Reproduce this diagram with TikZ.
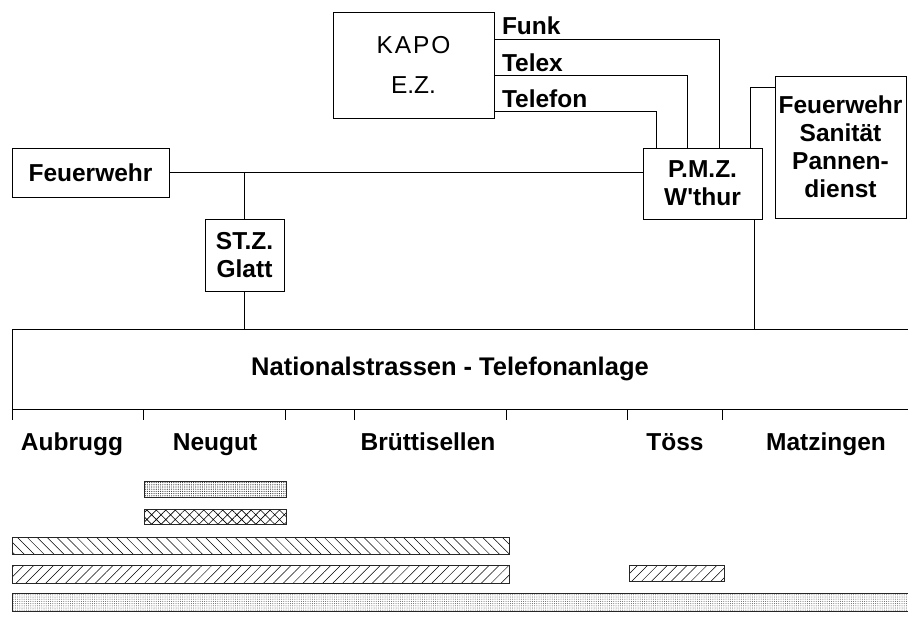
\documentclass[tikz,border=0pt]{standalone}
\usepackage{fontspec}
\setmainfont{Liberation Sans}[Ligatures=TeXOff]
\usetikzlibrary{calc,patterns.meta}
\tikzset{every node/.style={font=\fontsize{24.5}{28}\selectfont\bfseries},
  box/.style={draw=black,fill=white,line width=1pt,align=center,
    inner sep=0pt,outer sep=0pt},
  tag/.style={inner sep=0pt,outer sep=0pt},
  lnk/.style={draw=black,line width=0.9pt},
  bar/.style={draw=black!85,line width=0.8pt}}
\newcommand{\tick}[1]{\draw[lnk] (#1,409) -- (#1,420);}

\begin{document}
\begin{tikzpicture}[x=1pt,y=-1pt]
  \path[use as bounding box] (0,0) rectangle (908,619);

  % Alarm centres
  \node[box,minimum width=157,minimum height=49] (feuer) at (90.5,172.5) {Feuerwehr};
  \node[box,minimum width=79,minimum height=72] (stz) at (244.5,255) {ST.Z.\\Glatt};
  \node[box,minimum width=161,minimum height=106,font=\fontsize{24.5}{40}\selectfont\mdseries]
    (kapo) at (413.5,65) {\addfontfeatures{LetterSpace=8}KAPO\\E.Z.};
  \node[box,minimum width=119,minimum height=71] (pmz) at (702.5,183.5)
    {P.M.Z.\\W'thur};
  \node[box,minimum width=131,minimum height=142] (dienst) at (840.5,147)
    {Feuerwehr\\Sanität\\Pannen-\\dienst};
  \node[box,minimum width=900,minimum height=80,anchor=north west] (nsta) at (12,329) {};
  \node[tag,font=\fontsize{25.5}{28}\selectfont\bfseries] (nstatxt) at (450,369)
    {Nationalstrassen\hspace{7pt}-\hspace{7pt}Telefonanlage};

  % KAPO links
  \node[tag,anchor=base west] (funk) at (502,34) {Funk};
  \node[tag,anchor=base west] (telex) at (502,71) {Telex};
  \node[tag,anchor=base west] (telefon) at (502,107) {Telefon};
  \draw[lnk] (kapo.east |- 0,39) -| (pmz.north -| 719,0);
  \draw[lnk] (kapo.east |- 0,75) -| (pmz.north -| 687,0);
  \draw[lnk] (kapo.east |- 0,111) -| (pmz.north -| 656,0);

  % Lines between the centres
  \draw[lnk] (feuer.east) -- (feuer.east -| pmz.west);
  \draw[lnk] (stz.north) -- (stz.north |- feuer.east);
  \draw[lnk] (stz.south) -- (stz.south |- nsta.north);
  \draw[lnk] (pmz.north -| 750,0) |- (dienst.west |- 0,87);
  \draw[lnk] (pmz.south -| 754,0) -- (nsta.north -| 754,0);

  % Sections along the road
  \foreach \x in {12,143,285,354,506,627,722} {\tick{\x}}
  \node[tag,anchor=base] (aubrugg) at (72,450) {Aubrugg};
  \node[tag,anchor=base] (neugut) at (215,450) {Neugut};
  \node[tag,anchor=base] (bruett) at (428,450) {Brüttisellen};
  \node[tag,anchor=base] (toess) at (675,450) {Töss};
  \node[tag,anchor=base] (matz) at (826,450) {Matzingen};

  % Bars
  \draw[bar,pattern={Dots[distance=2.2pt,radius=0.6pt]},pattern color=black!80]
    (144,481) rectangle (286,497);
  \draw[bar,pattern={Hatch[angle=45,distance=6.7pt,line width=0.6pt]}]
    (144,509) rectangle (286,524);
  \draw[bar,pattern={Lines[angle=-45,distance=7pt,line width=0.5pt]}]
    (12,537) rectangle (509,554);
  \draw[bar,pattern={Lines[angle=45,distance=7pt,line width=0.5pt]}]
    (12,565) rectangle (509,583);
  \draw[bar,pattern={Lines[angle=45,distance=7pt,line width=0.5pt]}]
    (629,565) rectangle (724,581);
  \draw[bar,pattern={Dots[distance=2.2pt,radius=0.5pt]},pattern color=black!65]
    (12,593) rectangle (914,611);
\end{tikzpicture}
\end{document}
